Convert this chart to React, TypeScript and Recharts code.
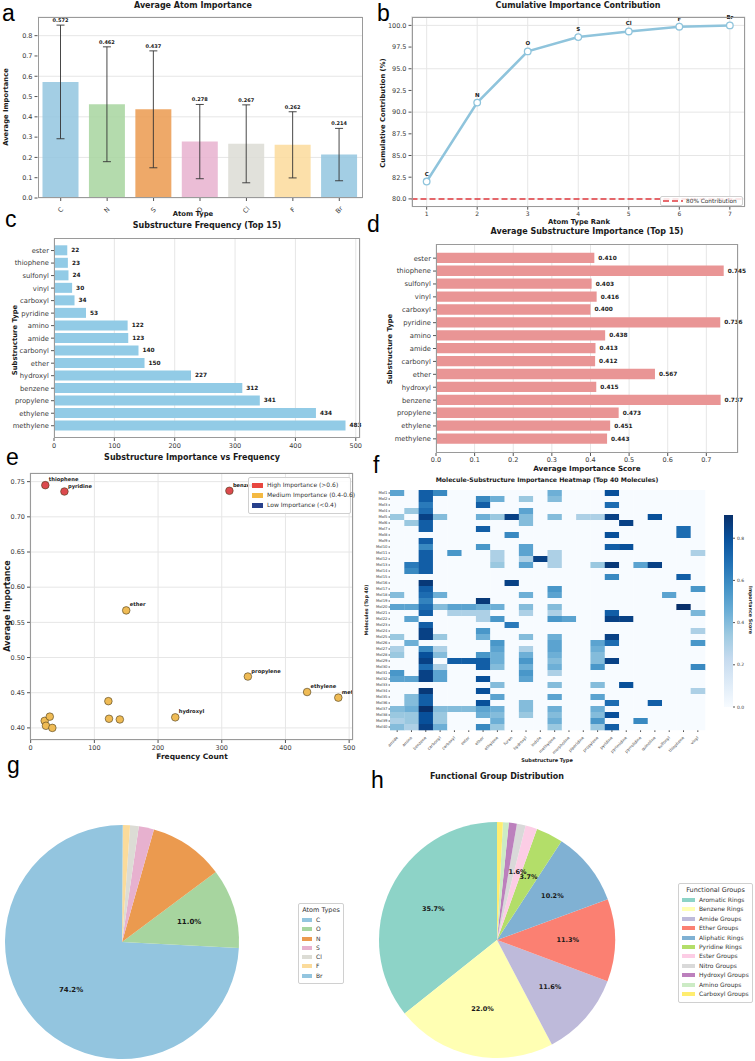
import React from 'react';
import {
  Bar,
  BarChart,
  CartesianGrid,
  Cell,
  ErrorBar,
  LabelList,
  Line,
  LineChart,
  Pie,
  PieChart,
  ReferenceLine,
  Scatter,
  ScatterChart,
  XAxis,
  YAxis,
} from 'recharts';

const FONT = "'DejaVu Sans', 'Liberation Sans', sans-serif";
const LETTER_FONT = "'Liberation Sans', Arial, sans-serif";
const INK = '#1a1a1a';
const TICK = '#3a3a3a';
const FRAME = '#9a9a9a';
const GRID = '#e6e6e6';

// (a) mean importance per atom type, with spread
const atomTypes = ['C', 'N', 'S', 'O', 'Cl', 'F', 'Br'];
const atomMean = [0.572, 0.462, 0.437, 0.278, 0.267, 0.262, 0.214];
const atomStd = [0.28, 0.283, 0.288, 0.183, 0.192, 0.163, 0.129];
const atomColors = ['#93c5df', '#a7d59f', '#eb9a4f', '#e7b1cf', '#dcdcd5', '#fbdb9b', '#93c5df'];
const importanceTicks = [0, 0.1, 0.2, 0.3, 0.4, 0.5, 0.6, 0.7, 0.8];

// (b) cumulative share by rank
const rankAtoms = ['C', 'N', 'O', 'S', 'Cl', 'F', 'Br'];
const cumulativePct = [82.0, 91.1, 97.0, 98.65, 99.3, 99.85, 100.0];
const cumulativeTicks = [80, 82.5, 85, 87.5, 90, 92.5, 95, 97.5, 100];
const rankTicks = [1, 2, 3, 4, 5, 6, 7];

// (c, d, e) top 15 substructures
const subNames = [
  'ester', 'thiophene', 'sulfonyl', 'vinyl', 'carboxyl', 'pyridine', 'amino', 'amide',
  'carbonyl', 'ether', 'hydroxyl', 'benzene', 'propylene', 'ethylene', 'methylene',
];
const subCounts = [22, 23, 24, 30, 34, 53, 122, 123, 140, 150, 227, 312, 341, 434, 483];
const subScores = [0.41, 0.745, 0.403, 0.416, 0.4, 0.736, 0.438, 0.413, 0.412, 0.567, 0.415, 0.737, 0.473, 0.451, 0.443];
const countTicks = [0, 100, 200, 300, 400, 500];
const scoreTicks = [0, 0.1, 0.2, 0.3, 0.4, 0.5, 0.6, 0.7];
const scatterTicks = [0.4, 0.45, 0.5, 0.55, 0.6, 0.65, 0.7, 0.75];
const scatterTagged = ['thiophene', 'pyridine', 'benzene', 'ether', 'propylene', 'ethylene', 'methylene', 'hydroxyl'];

// (f) molecule x substructure importance, sparse [column, value] per molecule
const heatColumns = [
  'amide', 'amino', 'benzene', 'carbonyl', 'carboxyl', 'ester', 'ether', 'ethylene', 'furan', 'hydroxyl', 'indole',
  'methylene', 'morpholine', 'piperidine', 'propylene', 'pyridine', 'pyrimidine', 'pyrrolidine', 'quinoline',
  'sulfonyl', 'thiophene', 'vinyl',
];
const heatRows = [
  [[0, 0.5], [2, 0.75], [3, 0.6], [11, 0.45], [15, 0.8]],
  [[2, 0.75], [6, 0.6], [7, 0.45], [9, 0.35], [11, 0.4]],
  [[2, 0.65], [6, 0.75], [15, 0.7]],
  [[1, 0.35], [2, 0.7], [9, 0.5]],
  [[0, 0.35], [2, 0.85], [3, 0.4], [6, 0.45], [7, 0.35], [8, 0.85], [9, 0.4], [11, 0.4], [13, 0.3], [14, 0.3], [15, 0.85], [18, 0.8]],
  [[1, 0.35], [2, 0.75], [9, 0.4], [16, 0.85]],
  [[2, 0.75], [6, 0.75], [20, 0.7]],
  [[8, 0.6], [15, 0.8], [20, 0.7]],
  [[2, 0.75]],
  [[2, 0.6], [6, 0.55], [9, 0.5], [15, 0.75], [16, 0.8]],
  [[2, 0.75], [4, 0.55], [7, 0.3], [9, 0.5], [11, 0.3], [21, 0.3]],
  [[2, 0.75], [7, 0.3], [9, 0.3], [10, 0.85], [11, 0.3]],
  [[1, 0.65], [2, 0.75], [7, 0.35], [9, 0.5], [11, 0.3], [14, 0.35], [15, 0.88], [17, 0.5], [18, 0.85]],
  [[1, 0.6], [2, 0.75]],
  [[15, 0.6], [20, 0.75]],
  [[2, 0.88], [8, 0.85]],
  [[2, 0.75], [11, 0.55], [21, 0.55]],
  [[0, 0.4], [2, 0.7], [3, 0.45], [9, 0.45], [11, 0.5], [19, 0.5]],
  [[2, 0.62], [6, 0.88]],
  [[0, 0.5], [1, 0.5], [2, 0.7], [3, 0.4], [4, 0.5], [5, 0.5], [6, 0.45], [7, 0.45], [9, 0.4], [11, 0.4], [20, 0.91]],
  [[2, 0.75], [4, 0.3], [5, 0.3], [6, 0.3], [9, 0.3], [11, 0.3], [15, 0.75], [21, 0.42]],
  [[1, 0.5], [6, 0.3], [7, 0.55], [11, 0.55], [12, 0.5], [15, 0.85], [16, 0.85]],
  [[2, 0.75], [8, 0.65]],
  [[2, 0.85], [6, 0.55], [21, 0.3]],
  [[0, 0.35], [2, 0.85], [3, 0.35], [6, 0.45], [9, 0.4], [11, 0.45], [15, 0.85]],
  [[1, 0.45], [7, 0.55], [11, 0.5], [14, 0.5], [15, 0.7], [21, 0.55]],
  [[0, 0.3], [2, 0.6], [3, 0.3], [7, 0.5], [9, 0.3], [11, 0.5], [14, 0.45]],
  [[0, 0.35], [2, 0.8], [3, 0.4], [6, 0.55], [7, 0.45], [9, 0.45], [11, 0.45], [14, 0.4]],
  [[2, 0.85], [4, 0.75], [5, 0.75], [6, 0.75], [7, 0.45], [9, 0.55], [11, 0.4], [14, 0.4], [15, 0.85]],
  [[2, 0.7], [3, 0.3], [6, 0.75], [7, 0.4], [9, 0.45], [11, 0.45], [14, 0.55], [21, 0.6]],
  [[0, 0.55], [2, 0.85], [3, 0.5], [9, 0.55], [11, 0.3]],
  [[0, 0.5], [1, 0.5], [2, 0.85], [3, 0.5], [6, 0.8], [9, 0.5]],
  [[7, 0.4], [11, 0.4], [14, 0.4], [16, 0.8]],
  [[2, 0.88], [6, 0.8], [21, 0.3]],
  [[1, 0.4], [2, 0.75], [7, 0.5], [11, 0.5], [14, 0.5]],
  [[1, 0.4], [2, 0.75], [6, 0.8], [9, 0.4], [15, 0.7], [18, 0.75]],
  [[0, 0.4], [1, 0.45], [2, 0.91], [3, 0.4], [4, 0.4], [5, 0.4], [6, 0.5], [7, 0.45], [9, 0.4], [11, 0.45], [14, 0.45]],
  [[0, 0.35], [1, 0.35], [2, 0.8], [3, 0.35], [6, 0.45], [7, 0.4], [9, 0.35], [11, 0.4], [14, 0.4], [15, 0.8]],
  [[0, 0.3], [1, 0.35], [2, 0.8], [3, 0.35], [7, 0.45], [11, 0.45], [14, 0.55], [17, 0.6]],
  [[0, 0.4], [1, 0.3], [2, 0.85], [3, 0.45], [6, 0.6], [7, 0.35], [11, 0.35], [14, 0.35], [15, 0.75]],
];
const heatMax = 0.91;
const colorbarTicks = [0, 0.2, 0.4, 0.6, 0.8];
const bluesStops = ['#f7fbff', '#deebf7', '#c6dbef', '#9ecae1', '#6baed6', '#4292c6', '#2171b5', '#08519c', '#08306b'];

// (g) atom type share
const shareAtoms = ['C', 'O', 'N', 'S', 'Cl', 'F', 'Br'];
const sharePct = [74.2, 11.0, 10.4, 2.1, 1.2, 1.0, 0.1];
const shareColors = ['#93c5df', '#a7d59f', '#eb9a4f', '#e7b1cf', '#dcdcd5', '#fbdb9b', '#93c5df'];

// (h) functional group share
const groupNames = [
  'Aromatic Rings', 'Benzene Rings', 'Amide Groups', 'Ether Groups', 'Aliphatic Rings', 'Pyridine Rings',
  'Ester Groups', 'Nitro Groups', 'Hydroxyl Groups', 'Amino Groups', 'Carboxyl Groups',
];
const groupPct = [35.7, 22.0, 11.6, 11.3, 10.2, 3.7, 1.6, 1.2, 1.1, 0.8, 0.8];
const groupColors = ['#8dd3c7', '#ffffb3', '#bebada', '#fb8072', '#80b1d3', '#b3de69', '#fccde5', '#d9d9d9', '#bc80bd', '#ccebc5', '#ffed6f'];

const atomRows = atomTypes.map((atom, i) => ({ atom, mean: atomMean[i], sd: atomStd[i] }));
const cumRows = rankAtoms.map((atom, i) => ({ rank: i + 1, atom, pct: cumulativePct[i] }));
const subRows = subNames.map((name, i) => ({ name, count: subCounts[i], score: subScores[i] }));
const scatterRows = subRows.map((r) => ({ ...r, tag: scatterTagged.includes(r.name) ? r.name : '' }));
const highRows = scatterRows.filter((r) => r.score > 0.6);
const midRows = scatterRows.filter((r) => r.score >= 0.4 && r.score <= 0.6);
const lowRows = scatterRows.filter((r) => r.score < 0.4);
const heatCells = heatRows.flatMap((row, r) =>
  heatColumns.map((_, c) => {
    const hit = row.find((p) => p[0] === c);
    return { col: c + 0.5, row: r + 0.5, v: hit ? hit[1] : 0 };
  }),
);
const shareRows = shareAtoms.map((name, i) => ({ name, pct: sharePct[i] }));
const groupRows = groupNames.map((name, i) => ({ name, pct: groupPct[i] }));

function hexToRgb(h: string) {
  const n = parseInt(h.slice(1), 16);
  return [(n >> 16) & 255, (n >> 8) & 255, n & 255];
}

function blues(t: number) {
  const u = Math.max(0, Math.min(1, t)) * (bluesStops.length - 1);
  const i = Math.min(Math.floor(u), bluesStops.length - 2);
  const f = u - i;
  const a = hexToRgb(bluesStops[i]);
  const b = hexToRgb(bluesStops[i + 1]);
  const c = a.map((v, k) => Math.round(v + (b[k] - v) * f));
  return `rgb(${c[0]},${c[1]},${c[2]})`;
}

type Box = { left: number; top: number; width: number; height: number };
type Rect = { x0: number; y0: number; x1: number; y1: number };

function margins(box: Box, plot: Rect, yW: number, xH: number, yRight = false) {
  return {
    top: plot.y0 - box.top,
    bottom: box.top + box.height - plot.y1 - xH,
    left: plot.x0 - box.left - (yRight ? 0 : yW),
    right: box.left + box.width - plot.x1 - (yRight ? yW : 0),
  };
}

const boxA = { left: 0, top: 0, width: 372, height: 225 };
const plotA = { x0: 37.5, y0: 17, x1: 362.5, y1: 198 };
const boxB = { left: 375, top: 0, width: 380, height: 225 };
const plotB = { x0: 411.5, y0: 16.7, x1: 745, y1: 206.7 };
const boxC = { left: 0, top: 225, width: 372, height: 230 };
const plotC = { x0: 54, y0: 238.3, x1: 360, y1: 438 };
const boxD = { left: 375, top: 225, width: 380, height: 250 };
const plotD = { x0: 436, y0: 244, x1: 738, y1: 453 };
const boxE = { left: 0, top: 455, width: 372, height: 305 };
const plotE = { x0: 30, y0: 473, x1: 353, y1: 740 };
const boxF = { left: 375, top: 455, width: 340, height: 305 };
const plotF = { x0: 390, y0: 490, x1: 705, y1: 730 };
const boxCB = { left: 715, top: 505, width: 40, height: 215 };
const plotCB = { x0: 724, y0: 515, x1: 733, y1: 707 };
// annotations in (e) are cut at the edge of the left column
const eClipRight = 363;

const tickStyle = { fontSize: 6.5, fill: TICK, fontFamily: FONT };
const tickLine = { stroke: '#555' };

function Txt({ x, y, size = 7, bold = false, rotate = 0, color = INK, children }: any) {
  return (
    <div
      style={{
        position: 'absolute',
        left: x,
        top: y,
        transform: `translate(-50%, -50%) rotate(${rotate}deg)`,
        fontSize: size,
        fontWeight: bold ? 700 : 400,
        fontFamily: FONT,
        color,
        whiteSpace: 'nowrap',
        lineHeight: 1,
      }}
    >
      {children}
    </div>
  );
}

// panel letter; baseline sits about 19.5px below `y`
function Letter({ x, y, children }: any) {
  return (
    <div style={{ position: 'absolute', left: x, top: y, fontSize: 23, lineHeight: 1, fontFamily: LETTER_FONT, color: '#000' }}>
      {children}
    </div>
  );
}

function Frame({ r }: { r: Rect }) {
  return (
    <div
      style={{
        position: 'absolute',
        left: r.x0,
        top: r.y0,
        width: r.x1 - r.x0,
        height: r.y1 - r.y0,
        border: `1px solid ${FRAME}`,
        boxSizing: 'border-box',
        pointerEvents: 'none',
      }}
    />
  );
}

function Placed({ box, children }: any) {
  return <div style={{ position: 'absolute', left: box.left, top: box.top }}>{children}</div>;
}

function LegendBox({ x, y, w, title, items, size, rowH, swatch }: any) {
  return (
    <div
      style={{
        position: 'absolute',
        left: x,
        top: y,
        width: w,
        padding: '2px 3px 3px 3px',
        boxSizing: 'border-box',
        border: '1px solid #d0d0d0',
        borderRadius: 2,
        background: 'rgba(255,255,255,0.85)',
        fontFamily: FONT,
        fontSize: size,
        color: '#333',
        lineHeight: 1,
      }}
    >
      {title && <div style={{ textAlign: 'center', fontSize: size + 0.5, height: rowH, lineHeight: `${rowH}px` }}>{title}</div>}
      {items.map((it: any) => (
        <div key={it.label} style={{ display: 'flex', alignItems: 'center', height: rowH }}>
          <span style={{ display: 'inline-block', width: swatch[0], height: swatch[1], background: it.color, marginRight: 4, flex: 'none' }} />
          <span style={{ whiteSpace: 'nowrap' }}>{it.label}</span>
        </div>
      ))}
    </div>
  );
}

function SlantTick(props: any) {
  const { x, y, payload } = props;
  const ty = y + 7;
  return (
    <text x={x} y={ty} transform={`rotate(-45, ${x}, ${ty})`} textAnchor="middle" dominantBaseline="central" fontSize={6.5} fill={TICK} fontFamily={FONT}>
      {payload.value}
    </text>
  );
}

function HeatTick(props: any) {
  const { x, y, payload } = props;
  const ty = y + 3;
  return (
    <text x={x} y={ty} transform={`rotate(-45, ${x}, ${ty})`} textAnchor="end" dominantBaseline="central" fontSize={4} fill={TICK} fontFamily={FONT}>
      {heatColumns[Math.floor(payload.value)]}
    </text>
  );
}

function MeanLabel(props: any) {
  const { x, y, width, height, value } = props;
  const i = atomMean.indexOf(value);
  const top = y - (atomStd[i] / value) * height;
  return (
    <text x={x + width / 2} y={top - 3} textAnchor="middle" fontSize={5} fontWeight="bold" fontFamily={FONT} fill={INK}>
      {value.toFixed(3)}
    </text>
  );
}

function EndLabel(digits: number) {
  return (props: any) => {
    const { x, y, width, height, value } = props;
    return (
      <text x={x + width + 4} y={y + height / 2} dominantBaseline="central" fontSize={5.8} fontWeight="bold" fontFamily={FONT} fill={INK}>
        {digits ? value.toFixed(digits) : value}
      </text>
    );
  };
}

function scatterShape(fill: string) {
  const ox = plotE.x0 - boxE.left;
  const oy = plotE.y0 - boxE.top;
  return (props: any) => {
    const { cx, cy, payload } = props;
    return (
      <g>
        <circle cx={cx} cy={cy} r={3.8} fill={fill} stroke="#4a3a1a" strokeWidth={0.6} />
        {payload.tag && (
          <svg x={ox} y={oy} width={eClipRight - plotE.x0} height={plotE.y1 - plotE.y0} overflow="hidden">
            <text x={cx - ox + 3.5} y={cy - oy - 4} fontSize={5.2} fontWeight="bold" fontFamily={FONT} fill={INK}>
              {payload.tag}
            </text>
          </svg>
        )}
      </g>
    );
  };
}

function heatShape(props: any) {
  const { cx, cy, payload } = props;
  const w = (plotF.x1 - plotF.x0) / heatColumns.length;
  const h = (plotF.y1 - plotF.y0) / heatRows.length;
  return <rect x={cx - w / 2} y={cy - h / 2} width={w + 0.3} height={h + 0.3} fill={blues(payload.v / heatMax)} />;
}

function pieLabel(threshold: number, size: number) {
  const RAD = Math.PI / 180;
  return (props: any) => {
    const { cx, cy, midAngle, outerRadius, payload } = props;
    const pct = payload.pct;
    if (pct <= threshold) return null;
    const r = outerRadius * 0.6;
    const x = cx + r * Math.cos(-midAngle * RAD);
    const y = cy + r * Math.sin(-midAngle * RAD);
    return (
      <text x={x} y={y} textAnchor="middle" dominantBaseline="central" fontSize={size} fontWeight="bold" fontFamily={FONT} fill={INK}>
        {`${pct.toFixed(1)}%`}
      </text>
    );
  };
}

export default function App() {
  const mA = margins(boxA, plotA, 37.5, 27);
  const mB = margins(boxB, plotB, 36.5, 18.3);
  const mC = margins(boxC, plotC, 54, 17);
  const mD = margins(boxD, plotD, 61, 21);
  const mE = margins(boxE, plotE, 30, 20);
  const mF = margins(boxF, plotF, 15, 30);
  const mCB = margins(boxCB, plotCB, 22, 0, true);

  return (
    <div style={{ position: 'absolute', left: 0, top: 0, width: 755, height: 1061, background: '#fff', overflow: 'hidden' }}>
      {/* a */}
      <Placed box={boxA}>
        <BarChart width={boxA.width} height={boxA.height} data={atomRows} margin={mA}>
          <CartesianGrid vertical={false} stroke={GRID} />
          <XAxis dataKey="atom" height={27} interval={0} tick={<SlantTick />} tickLine={tickLine} tickSize={3} axisLine={false} />
          <YAxis
            width={37.5}
            domain={[0, 0.892]}
            allowDataOverflow
            ticks={importanceTicks}
            tickFormatter={(v: number) => v.toFixed(1)}
            tick={tickStyle}
            tickLine={tickLine}
            tickSize={3}
            axisLine={false}
          />
          <Bar dataKey="mean" barSize={36} fillOpacity={0.85} isAnimationActive={false}>
            {atomRows.map((r, i) => (
              <Cell key={r.atom} fill={atomColors[i]} />
            ))}
            <ErrorBar dataKey="sd" width={4} stroke="#333" strokeWidth={0.9} direction="y" />
            <LabelList dataKey="mean" content={<MeanLabel />} />
          </Bar>
        </BarChart>
      </Placed>
      <Frame r={plotA} />
      <Letter x={2} y={1.5}>a</Letter>
      <Txt x={193} y={6} size={8} bold>Average Atom Importance</Txt>
      <Txt x={6} y={107} size={6.8} bold rotate={-90}>Average Importance</Txt>
      <Txt x={193} y={214} size={6.8} bold>Atom Type</Txt>

      {/* b */}
      <Placed box={boxB}>
        <LineChart width={boxB.width} height={boxB.height} data={cumRows} margin={mB}>
          <CartesianGrid stroke={GRID} />
          <XAxis
            type="number"
            dataKey="rank"
            domain={[0.7, 7.3]}
            ticks={rankTicks}
            height={18.3}
            tick={{ ...tickStyle, fontSize: 6 }}
            tickLine={tickLine}
            tickSize={3}
            axisLine={false}
            allowDataOverflow
          />
          <YAxis
            width={36.5}
            domain={[79.1, 101]}
            allowDataOverflow
            ticks={cumulativeTicks}
            tickFormatter={(v: number) => v.toFixed(1)}
            tick={tickStyle}
            tickLine={tickLine}
            tickSize={3}
            axisLine={false}
          />
          <ReferenceLine y={80} stroke="#e0393e" strokeDasharray="6 3" strokeWidth={1.5} />
          <Line
            dataKey="pct"
            stroke="#8fc4dc"
            strokeWidth={2.5}
            dot={{ r: 3.3, fill: '#fff', stroke: '#8fc4dc', strokeWidth: 1.3 }}
            isAnimationActive={false}
          >
            <LabelList dataKey="atom" position="top" offset={6} style={{ fontSize: 5.5, fontWeight: 'bold', fontFamily: FONT, fill: INK }} />
          </Line>
        </LineChart>
      </Placed>
      <Frame r={plotB} />
      <div
        style={{
          position: 'absolute',
          left: 660,
          top: 196,
          width: 83,
          height: 10,
          border: '1px solid #d0d0d0',
          borderRadius: 2,
          background: 'rgba(255,255,255,0.85)',
          boxSizing: 'border-box',
          display: 'flex',
          alignItems: 'center',
          fontFamily: FONT,
          fontSize: 5.8,
          color: '#333',
        }}
      >
        <svg width={20} height={6} style={{ marginLeft: 2, marginRight: 3 }}>
          <line x1={0} y1={3} x2={20} y2={3} stroke="#e0393e" strokeWidth={1.5} strokeDasharray="6 3" />
        </svg>
        80% Contribution
      </div>
      <Letter x={377} y={2}>b</Letter>
      <Txt x={578} y={6} size={8} bold>Cumulative Importance Contribution</Txt>
      <Txt x={383} y={113} size={6.8} bold rotate={-90}>Cumulative Contribution (%)</Txt>
      <Txt x={579} y={222} size={6.8} bold>Atom Type Rank</Txt>

      {/* c */}
      <Placed box={boxC}>
        <BarChart layout="vertical" width={boxC.width} height={boxC.height} data={subRows} margin={mC}>
          <CartesianGrid horizontal={false} stroke={GRID} />
          <XAxis type="number" domain={[0, 507]} ticks={countTicks} height={17} tick={tickStyle} tickLine={tickLine} tickSize={3} axisLine={false} />
          <YAxis
            type="category"
            dataKey="name"
            width={54}
            interval={0}
            padding={{ top: 6, bottom: 6 }}
            tick={{ ...tickStyle, fontSize: 6.8 }}
            tickLine={tickLine}
            tickSize={3}
            axisLine={false}
          />
          <Bar dataKey="count" fill="#92cbe6" barSize={10} isAnimationActive={false}>
            <LabelList dataKey="count" content={EndLabel(0)} />
          </Bar>
        </BarChart>
      </Placed>
      <Frame r={plotC} />
      <Letter x={5} y={207.5}>c</Letter>
      <Txt x={207} y={226} size={8} bold>Substructure Frequency (Top 15)</Txt>
      <Txt x={15} y={340} size={6.8} bold rotate={-90}>Substructure Type</Txt>

      {/* d */}
      <Placed box={boxD}>
        <BarChart layout="vertical" width={boxD.width} height={boxD.height} data={subRows} margin={mD}>
          <CartesianGrid horizontal={false} stroke={GRID} />
          <XAxis
            type="number"
            domain={[0, 0.782]}
            allowDataOverflow
            ticks={scoreTicks}
            tickFormatter={(v: number) => v.toFixed(1)}
            height={21}
            tick={tickStyle}
            tickLine={tickLine}
            tickSize={3}
            tickMargin={1}
            axisLine={false}
          />
          <YAxis
            type="category"
            dataKey="name"
            width={61}
            interval={0}
            padding={{ top: 7.7, bottom: 7.7 }}
            tick={{ ...tickStyle, fontSize: 6.8 }}
            tickLine={tickLine}
            tickSize={3}
            axisLine={false}
          />
          <Bar dataKey="score" fill="#e99595" barSize={10.3} isAnimationActive={false}>
            <LabelList dataKey="score" content={EndLabel(3)} />
          </Bar>
        </BarChart>
      </Placed>
      <Frame r={plotD} />
      <Letter x={367} y={212.5}>d</Letter>
      <Txt x={587} y={232} size={8} bold>Average Substructure Importance (Top 15)</Txt>
      <Txt x={390} y={349} size={6.8} bold rotate={-90}>Substructure Type</Txt>
      <Txt x={587} y={469} size={7.2} bold>Average Importance Score</Txt>

      {/* e */}
      <Placed box={boxE}>
        <ScatterChart width={boxE.width} height={boxE.height} margin={mE}>
          <CartesianGrid stroke={GRID} />
          <XAxis
            type="number"
            dataKey="count"
            domain={[-1.05, 506.05]}
            allowDataOverflow
            ticks={countTicks}
            height={20}
            tick={tickStyle}
            tickLine={tickLine}
            tickSize={3}
            axisLine={false}
          />
          <YAxis
            type="number"
            dataKey="score"
            domain={[0.3828, 0.7623]}
            allowDataOverflow
            ticks={scatterTicks}
            tickFormatter={(v: number) => v.toFixed(2)}
            width={30}
            tick={tickStyle}
            tickLine={tickLine}
            tickSize={3}
            axisLine={false}
          />
          <Scatter name="High Importance (>0.6)" data={highRows} shape={scatterShape('#dc4a4e')} isAnimationActive={false} />
          <Scatter name="Medium Importance (0.4-0.6)" data={midRows} shape={scatterShape('#efbb55')} isAnimationActive={false} />
          <Scatter name="Low Importance (<0.4)" data={lowRows} shape={scatterShape('#2b4a9a')} isAnimationActive={false} />
        </ScatterChart>
      </Placed>
      <Frame r={plotE} />
      <LegendBox
        x={248}
        y={477}
        w={103}
        size={6}
        rowH={10}
        swatch={[11, 5]}
        items={[
          { label: 'High Importance (>0.6)', color: '#e8473f' },
          { label: 'Medium Importance (0.4-0.6)', color: '#f4b942' },
          { label: 'Low Importance (<0.4)', color: '#27408b' },
        ]}
      />
      <Letter x={6} y={445.5}>e</Letter>
      <Txt x={192} y={458} size={8} bold>Substructure Importance vs Frequency</Txt>
      <Txt x={8} y={606} size={8} bold rotate={-90}>Average Importance</Txt>
      <Txt x={192} y={757} size={7.5} bold>Frequency Count</Txt>

      {/* f */}
      <Placed box={boxF}>
        <ScatterChart width={boxF.width} height={boxF.height} margin={mF}>
          <XAxis
            type="number"
            dataKey="col"
            domain={[0, heatColumns.length]}
            ticks={heatColumns.map((_, i) => i + 0.5)}
            interval={0}
            height={30}
            tick={<HeatTick />}
            tickLine={tickLine}
            tickSize={2}
            axisLine={false}
          />
          <YAxis
            type="number"
            dataKey="row"
            reversed
            domain={[0, heatRows.length]}
            ticks={heatRows.map((_, i) => i + 0.5)}
            interval={0}
            tickFormatter={(v: number) => `Mol${v + 0.5}`}
            width={15}
            tick={{ fontSize: 3.8, fill: TICK, fontFamily: FONT }}
            tickLine={tickLine}
            tickSize={1.5}
            tickMargin={1}
            axisLine={false}
          />
          <Scatter data={heatCells} shape={heatShape} isAnimationActive={false} />
        </ScatterChart>
      </Placed>
      <Placed box={boxCB}>
        <BarChart width={boxCB.width} height={boxCB.height} data={[{ k: 'scale', v: heatMax }]} margin={mCB} barCategoryGap={0}>
          <defs>
            <linearGradient id="bluesBar" x1="0" y1="1" x2="0" y2="0">
              {bluesStops.map((c, i) => (
                <stop key={c} offset={`${(i / (bluesStops.length - 1)) * 100}%`} stopColor={c} />
              ))}
            </linearGradient>
          </defs>
          <XAxis dataKey="k" hide />
          <YAxis
            orientation="right"
            domain={[0, heatMax]}
            allowDataOverflow
            ticks={colorbarTicks}
            tickFormatter={(v: number) => v.toFixed(1)}
            width={22}
            tick={{ fontSize: 4.5, fill: TICK, fontFamily: FONT }}
            tickLine={tickLine}
            tickSize={2}
            axisLine={false}
          />
          <Bar dataKey="v" fill="url(#bluesBar)" isAnimationActive={false} />
        </BarChart>
      </Placed>
      <Letter x={373} y={453.5}>f</Letter>
      <Txt x={547} y={480} size={6.2} bold>Molecule-Substructure Importance Heatmap (Top 40 Molecules)</Txt>
      <Txt x={367} y={610} size={4.8} bold rotate={-90}>Molecules (Top 40)</Txt>
      <Txt x={547} y={760} size={5} bold>Substructure Type</Txt>
      <Txt x={750} y={610} size={4.8} bold rotate={90}>Importance Score</Txt>

      {/* g */}
      <div style={{ position: 'absolute', left: 0, top: 760 }}>
        <PieChart width={375} height={301} margin={{ top: 0, right: 0, bottom: 0, left: 0 }}>
          <Pie
            data={shareRows}
            dataKey="pct"
            nameKey="name"
            cx={122}
            cy={182}
            outerRadius={117}
            startAngle={90}
            endAngle={450}
            stroke="none"
            label={pieLabel(10.5, 7)}
            labelLine={false}
            isAnimationActive={false}
          >
            {shareRows.map((r, i) => (
              <Cell key={r.name} fill={shareColors[i]} />
            ))}
          </Pie>
        </PieChart>
      </div>
      <LegendBox
        x={298}
        y={903}
        w={46}
        title="Atom Types"
        size={6}
        rowH={9.3}
        swatch={[10, 4]}
        items={shareAtoms.map((a, i) => ({ label: a, color: shareColors[i] }))}
      />
      <Letter x={7} y={753.5}>g</Letter>

      {/* h */}
      <div style={{ position: 'absolute', left: 375, top: 760 }}>
        <PieChart width={380} height={301} margin={{ top: 0, right: 0, bottom: 0, left: 0 }}>
          <Pie
            data={groupRows}
            dataKey="pct"
            nameKey="name"
            cx={122}
            cy={180}
            outerRadius={118}
            startAngle={90}
            endAngle={450}
            stroke="none"
            label={pieLabel(1.5, 6.5)}
            labelLine={false}
            isAnimationActive={false}
          >
            {groupRows.map((r, i) => (
              <Cell key={r.name} fill={groupColors[i]} />
            ))}
          </Pie>
        </PieChart>
      </div>
      <LegendBox
        x={678}
        y={883}
        w={75}
        title="Functional Groups"
        size={6}
        rowH={9.4}
        swatch={[13, 4]}
        items={groupNames.map((g, i) => ({ label: g, color: groupColors[i] }))}
      />
      <Letter x={371} y={768.5}>h</Letter>
      <Txt x={497} y={777} size={8} bold>Functional Group Distribution</Txt>
    </div>
  );
}
